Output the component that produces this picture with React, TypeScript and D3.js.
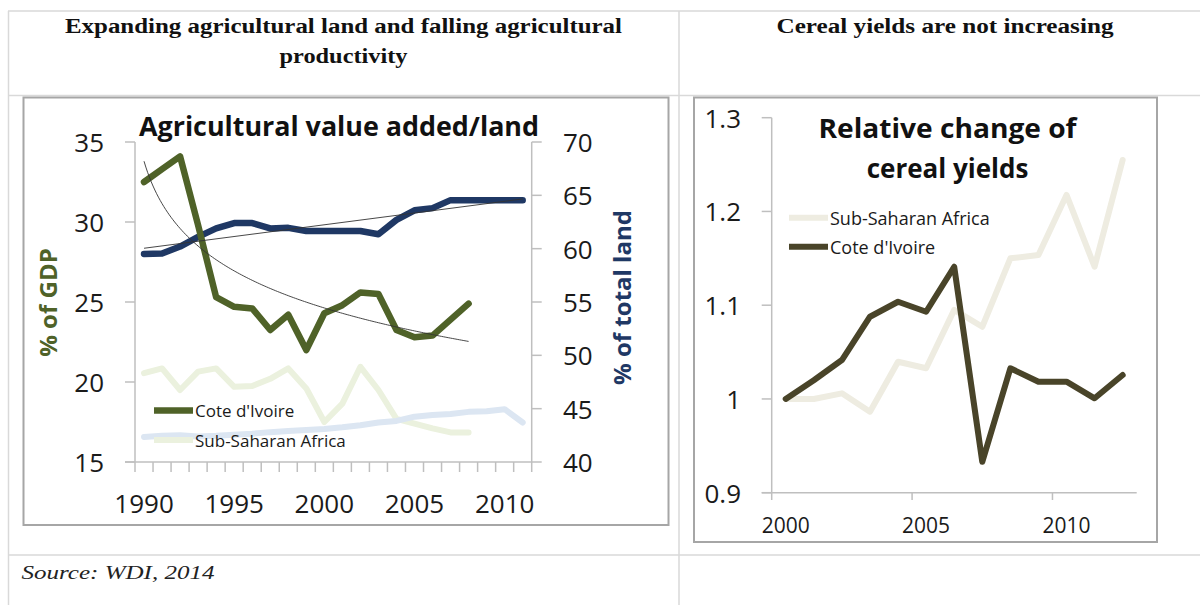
import React from 'react';
import * as d3 from 'd3';

// ---------- DATA ----------
const leftYears = [1990, 1991, 1992, 1993, 1994, 1995, 1996, 1997, 1998, 1999, 2000, 2001, 2002, 2003, 2004, 2005, 2006, 2007, 2008, 2009, 2010, 2011];
// Agricultural value added, % of GDP (left axis), 1990-2008
const ciGdp = [32.5, 33.3, 34.1, 29.8, 25.3, 24.7, 24.6, 23.25, 24.2, 22.0, 24.3, 24.8, 25.6, 25.5, 23.25, 22.8, 22.9, 23.9, 24.9];
const ssaGdp = [20.55, 20.85, 19.5, 20.65, 20.85, 19.7, 19.75, 20.2, 20.85, 19.6, 17.5, 18.65, 20.95, 19.5, 17.7, 17.4, 17.1, 16.85, 16.85];
// Agricultural land, % of total land (right axis), 1990-2011
const ciLand = [59.5, 59.55, 60.2, 61.1, 61.9, 62.4, 62.4, 61.9, 61.95, 61.65, 61.65, 61.65, 61.65, 61.35, 62.7, 63.6, 63.8, 64.55, 64.55, 64.55, 64.55, 64.55];
const ssaLand = [42.35, 42.45, 42.5, 42.4, 42.45, 42.55, 42.65, 42.8, 42.9, 43.0, 43.1, 43.25, 43.45, 43.7, 43.85, 44.25, 44.4, 44.5, 44.7, 44.75, 44.95, 43.7];
const gdpTicks = [15, 20, 25, 30, 35];
const landTicks = [40, 45, 50, 55, 60, 65, 70];
const leftYearLabels = [1990, 1995, 2000, 2005, 2010];

const rightYears = [2000, 2001, 2002, 2003, 2004, 2005, 2006, 2007, 2008, 2009, 2010, 2011, 2012];
const ciCereal = [1.0, 1.02, 1.0415, 1.0877, 1.1037, 1.093, 1.141, 0.933, 1.0327, 1.0184, 1.0184, 1.0007, 1.0255];
const ssaCereal = [1.0, 1.0, 1.006, 0.9864, 1.0397, 1.0327, 1.095, 1.077, 1.15, 1.1535, 1.2176, 1.141, 1.2549];
const cerealTicks = [0.9, 1.0, 1.1, 1.2, 1.3];
const cerealTickLabels = ['0.9', '1', '1.1', '1.2', '1.3'];
const rightYearLabels = [2000, 2005, 2010];

// ---------- STYLE ----------
const C = {
  ciGreen: '#4f6228',
  ssaGreen: '#ebf1de',
  ciBlue: '#1f3864',
  ssaBlue: '#dce6f2',
  ciBrown: '#494429',
  ssaTan: '#eeece1',
  axis: '#bfbfbf',
  frame: '#a6a6a6',
  table: '#d9d9d9',
  text: '#1a1a1a',
};
const SANS = '"Open Sans", "DejaVu Sans", sans-serif';
const SERIF = '"Liberation Serif", "DejaVu Serif", serif';

function linReg(xs: number[], ys: number[]) {
  const mx = d3.mean(xs) as number;
  const my = d3.mean(ys) as number;
  let num = 0, den = 0;
  xs.forEach((x, i) => { num += (x - mx) * (ys[i] - my); den += (x - mx) * (x - mx); });
  const a = num / den;
  return { a, b: my - a * mx };
}

export default function App() {
  // ----- left chart scales -----
  const lx = d3.scaleBand<number>().domain(leftYears).range([135, 531.7]).paddingInner(0).paddingOuter(0);
  const lbw = lx.bandwidth();
  const lcx = (yr: number) => (lx(yr) as number) + lbw / 2;
  const ly = d3.scaleLinear().domain([15, 35]).range([462, 142]);
  const ly2 = d3.scaleLinear().domain([40, 70]).range([462, 142]);

  const gdpLine = (vals: number[]) =>
    d3.line<number>().x((_, i) => lcx(leftYears[i])).y((v) => ly(v))(vals) as string;
  const landLine = (vals: number[]) =>
    d3.line<number>().x((_, i) => lcx(leftYears[i])).y((v) => ly2(v))(vals) as string;

  // Excel-style trendlines computed from the series
  const idxG = ciGdp.map((_, i) => i + 1);
  const logFit = linReg(idxG.map(Math.log), ciGdp);
  const logPts = d3.range(1, ciGdp.length + 0.001, 0.1).map((t) => [
    lcx(leftYears[0]) + (t - 1) * lbw,
    ly(logFit.a * Math.log(t) + logFit.b),
  ] as [number, number]);
  const idxL = ciLand.map((_, i) => i + 1);
  const linFit = linReg(idxL, ciLand);
  const linPts: [number, number][] = [1, ciLand.length].map((t) => [
    lcx(leftYears[0]) + (t - 1) * lbw,
    ly2(linFit.a * t + linFit.b),
  ]);

  // ----- right chart scales -----
  const rx = d3.scaleBand<number>().domain(rightYears).range([771.7, 1136.7]).paddingInner(0).paddingOuter(0);
  const rbw = rx.bandwidth();
  const rcx = (yr: number) => (rx(yr) as number) + rbw / 2;
  const ry = d3.scaleLinear().domain([0.9, 1.3]).range([492.7, 117.7]);
  const cerealLine = (vals: number[]) =>
    d3.line<number>().x((_, i) => rcx(rightYears[i])).y((v) => ry(v))(vals) as string;

  const lineProps = { fill: 'none', strokeLinejoin: 'round' as const, strokeLinecap: 'round' as const };

  return (
    <div style={{ position: 'absolute', left: 0, top: 0 }}>
      <svg width={1200} height={605} style={{ display: 'block', background: '#fff' }}>
        {/* table grid */}
        <g stroke={C.table} strokeWidth={1.5}>
          <line x1={8} x2={1200} y1={11} y2={11} />
          <line x1={8} x2={1200} y1={95.5} y2={95.5} />
          <line x1={8} x2={1200} y1={555} y2={555} />
          <line x1={8.5} x2={8.5} y1={11} y2={605} />
          <line x1={679} x2={679} y1={11} y2={605} />
        </g>

        {/* headers */}
        <g fontFamily={SERIF} fontWeight="bold" fontSize={20} fill="#111" textAnchor="middle">
          <text x={343.5} y={33} textLength={557} lengthAdjust="spacingAndGlyphs">Expanding agricultural land and falling agricultural</text>
          <text x={343.5} y={63} textLength={128} lengthAdjust="spacingAndGlyphs">productivity</text>
          <text x={945} y={33} textLength={337} lengthAdjust="spacingAndGlyphs">Cereal yields are not increasing</text>
        </g>
        <text x={21.5} y={579} fontFamily={SERIF} fontStyle="italic" fontSize={18} fill="#222" textLength={193} lengthAdjust="spacingAndGlyphs">Source: WDI, 2014</text>

        {/* ================= LEFT CHART ================= */}
        <rect x={23.5} y={97.5} width={645} height={427.5} fill="#fff" stroke={C.frame} strokeWidth={2} />

        {/* axes */}
        <g stroke={C.axis} strokeWidth={1.5}>
          <line x1={135} x2={135} y1={142} y2={462} />
          <line x1={531.7} x2={531.7} y1={142} y2={462} />
          <line x1={125} x2={531.7} y1={462} y2={462} />
          {gdpTicks.map((t) => <line key={'gt' + t} x1={125} x2={135} y1={ly(t)} y2={ly(t)} />)}
          {landTicks.map((t) => <line key={'lt' + t} x1={531.7} x2={541.7} y1={ly2(t)} y2={ly2(t)} />)}
          {leftYears.map((yr) => <line key={'xt' + yr} x1={lx(yr) as number} x2={lx(yr) as number} y1={462} y2={472} />)}
          <line x1={531.7} x2={531.7} y1={462} y2={472} />
        </g>
        <g fontFamily={SANS} fontSize={26} fill={C.text}>
          {gdpTicks.map((t) => (
            <text key={'gl' + t} x={104} y={ly(t)} textAnchor="end" dominantBaseline="central">{t}</text>
          ))}
          {landTicks.map((t) => (
            <text key={'ll' + t} x={563} y={ly2(t)} textAnchor="start" dominantBaseline="central">{t}</text>
          ))}
          {leftYearLabels.map((yr) => (
            <text key={'yl' + yr} x={lcx(yr)} y={503} textAnchor="middle" dominantBaseline="central">{yr}</text>
          ))}
        </g>

        {/* axis titles */}
        <text transform="translate(47,302.5) rotate(-90)" textAnchor="middle" dominantBaseline="central"
          fontFamily={SANS} fontWeight="bold" fontSize={24} fill={C.ciGreen}>% of GDP</text>
        <text transform="translate(621.5,297.5) rotate(-90)" textAnchor="middle" dominantBaseline="central"
          fontFamily={SANS} fontWeight="bold" fontSize={24} fill={C.ciBlue}>% of total land</text>

        {/* series */}
        <path d={gdpLine(ssaGdp)} stroke={C.ssaGreen} strokeWidth={6} {...lineProps} />
        <path d={landLine(ssaLand)} stroke={C.ssaBlue} strokeWidth={6} {...lineProps} />
        <path d={landLine(ciLand)} stroke={C.ciBlue} strokeWidth={6.5} {...lineProps} />
        <path d={gdpLine(ciGdp)} stroke={C.ciGreen} strokeWidth={6.5} {...lineProps} />
        <path d={d3.line()(logPts) as string} stroke="#333" strokeWidth={0.9} fill="none" />
        <path d={d3.line()(linPts) as string} stroke="#333" strokeWidth={0.9} fill="none" />

        {/* legend */}
        <line x1={154} x2={193} y1={410.5} y2={410.5} stroke={C.ciGreen} strokeWidth={6.5} />
        <line x1={154} x2={193} y1={440} y2={440} stroke={C.ssaGreen} strokeWidth={6} />
        <g fontFamily={SANS} fontSize={17} fill={C.text}>
          <text x={195} y={410.5} dominantBaseline="central">Cote d'Ivoire</text>
          <text x={195} y={440} dominantBaseline="central">Sub-Saharan Africa</text>
        </g>

        {/* title */}
        <text x={339} y={136} textAnchor="middle" fontFamily={SANS} fontWeight="bold" fontSize={26} fill="#111"
          textLength={400} lengthAdjust="spacingAndGlyphs">Agricultural value added/land</text>

        {/* ================= RIGHT CHART ================= */}
        <rect x={694} y={97.5} width={463} height={444.5} fill="#fff" stroke={C.frame} strokeWidth={2} />
        <g stroke={C.axis} strokeWidth={1.5}>
          <line x1={771.7} x2={771.7} y1={117.7} y2={492.7} />
          <line x1={761.7} x2={1136.7} y1={492.7} y2={492.7} />
          {cerealTicks.map((t) => <line key={'ct' + t} x1={761.7} x2={771.7} y1={ry(t)} y2={ry(t)} />)}
          {rightYears.filter((_, i) => i % 5 === 0).map((yr) => (
            <line key={'rt' + yr} x1={rx(yr) as number} x2={rx(yr) as number} y1={492.7} y2={500} />
          ))}
        </g>
        <g fontFamily={SANS} fill={C.text}>
          {cerealTicks.map((t, i) => (
            <text key={'cl' + t} x={741} y={ry(t)} textAnchor="end" dominantBaseline="central" fontSize={26}>{cerealTickLabels[i]}</text>
          ))}
          {rightYearLabels.map((yr) => (
            <text key={'ryl' + yr} x={rcx(yr)} y={525} textAnchor="middle" dominantBaseline="central" fontSize={21}>{yr}</text>
          ))}
        </g>

        <path d={cerealLine(ssaCereal)} stroke={C.ssaTan} strokeWidth={6} {...lineProps} />
        <path d={cerealLine(ciCereal)} stroke={C.ciBrown} strokeWidth={6} {...lineProps} />

        <g fontFamily={SANS} fontWeight="bold" fontSize={26} fill="#111" textAnchor="middle">
          <text x={947.5} y={137.5} textLength={258} lengthAdjust="spacingAndGlyphs">Relative change of</text>
          <text x={947.5} y={177.5}>cereal yields</text>
        </g>

        <line x1={789} x2={828} y1={217.7} y2={217.7} stroke={C.ssaTan} strokeWidth={6} />
        <line x1={789} x2={828} y1={246.7} y2={246.7} stroke={C.ciBrown} strokeWidth={6} />
        <g fontFamily={SANS} fontSize={18} fill={C.text}>
          <text x={830} y={217.7} dominantBaseline="central">Sub-Saharan Africa</text>
          <text x={830} y={246.7} dominantBaseline="central">Cote d'Ivoire</text>
        </g>
      </svg>
    </div>
  );
}
